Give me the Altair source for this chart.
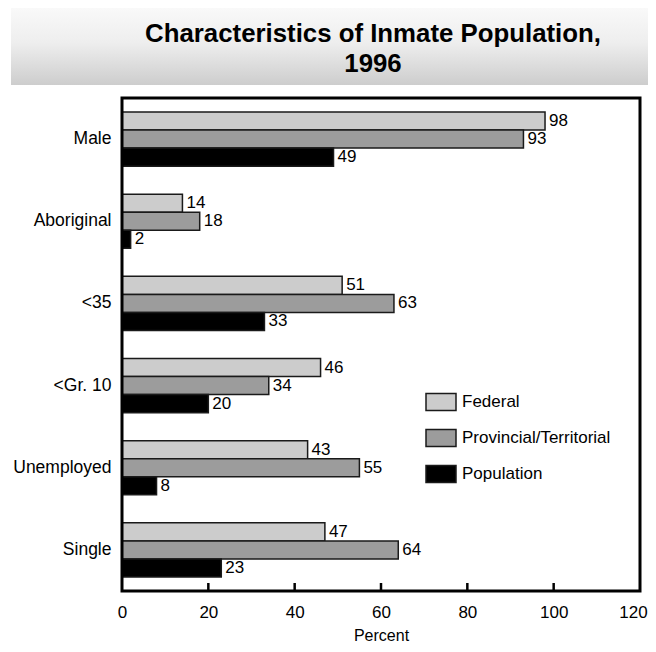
import altair as alt
import pandas as pd

categories = ["Male", "Aboriginal", "<35", "<Gr. 10", "Unemployed", "Single"]
series = ["Federal", "Provincial/Territorial", "Population"]
federal = [98, 14, 51, 46, 43, 47]
provincial = [93, 18, 63, 34, 55, 64]
population = [49, 2, 33, 20, 8, 23]
x_ticks = [20, 40, 60, 80, 100]
x_labels = [0, 20, 40, 60, 80, 100, 120]
title_lines = ["Characteristics of Inmate Population,", "1996"]

rows = []
for s, vals in zip(series, [federal, provincial, population]):
    for c, v in zip(categories, vals):
        rows.append({"category": c, "series": s, "value": v})
df = pd.DataFrame(rows)

FONT = "Liberation Sans"
W, H = 518, 493

x_enc = alt.X(
    "value:Q",
    scale=alt.Scale(domain=[0, 120], nice=False, zero=True),
    axis=alt.Axis(values=x_labels, tickSize=0, domain=False, grid=False,
                  labelFlush=False, labelBound=False,
                  labelOffset={"condition": {"test": "datum.value == 120", "value": -7}, "value": 0},
                  labelFontSize=17, labelFont=FONT, labelColor="black",
                  labelPadding=13, title="Percent", titleFontSize=16,
                  titleFont=FONT, titleFontWeight="normal", titleColor="black",
                  titlePadding=7),
)
y_enc = alt.Y(
    "category:N", sort=categories,
    scale=alt.Scale(paddingInner=0.34, paddingOuter=0.17),
    axis=alt.Axis(title=None, ticks=False, domain=False, labelFontSize=17.5,
                  labelFont=FONT, labelColor="black", labelPadding=11),
)
yoff = alt.YOffset("series:N", sort=series,
                   scale=alt.Scale(paddingInner=0, paddingOuter=0))

base = alt.Chart(df)

bars = base.mark_bar(stroke="#1a1a1a", strokeWidth=1.5).encode(
    x=x_enc, y=y_enc, yOffset=yoff,
    color=alt.Color(
        "series:N",
        scale=alt.Scale(domain=series, range=["#cccccc", "#9c9c9c", "#000000"]),
        legend=alt.Legend(
            title=None, orient="none", legendX=303, legendY=288,
            symbolType="M-1,-0.56H1V0.56H-1Z", symbolSize=900,
            symbolStrokeColor="#1a1a1a", symbolStrokeWidth=1.5,
            symbolOpacity=1, labelFontSize=17, labelFont=FONT,
            labelColor="black", labelOffset=5, rowPadding=8,
        ),
    ),
)

labels = base.mark_text(align="left", baseline="middle", dx=4,
                        fontSize=17, font=FONT, color="black").encode(
    x="value:Q", y=alt.Y("category:N", sort=categories), yOffset=yoff,
    text="value:Q",
)

ticks = alt.Chart(pd.DataFrame({"value": x_ticks})).mark_rule(
    color="black", strokeWidth=2.5).encode(
    x="value:Q", y=alt.value(H - 8), y2=alt.value(H))

frame = alt.Chart(pd.DataFrame({"a": [0]})).mark_rect(
    fill=None, stroke="black", strokeWidth=3).encode(
    x=alt.value(0), x2=alt.value(W), y=alt.value(0), y2=alt.value(H))

header = alt.Chart(pd.DataFrame({"a": [0]})).mark_rect(
    color=alt.Gradient(
        gradient="linear",
        stops=[alt.GradientStop(offset=0, color="#f9f9f9"),
               alt.GradientStop(offset=0.45, color="#eeeeee"),
               alt.GradientStop(offset=1, color="#cdcdcd")],
        x1=0.5, y1=0, x2=0.5, y2=1,
    )
).encode(x=alt.value(-111), x2=alt.value(529), y=alt.value(-90), y2=alt.value(-13))

t1 = alt.Chart(pd.DataFrame({"t": [title_lines[0]]})).mark_text(
    font=FONT, fontSize=25.8, fontWeight="bold", align="center",
    baseline="alphabetic", color="black").encode(
    text="t:N", x=alt.value(251), y=alt.value(-56))
t2 = alt.Chart(pd.DataFrame({"t": [title_lines[1]]})).mark_text(
    font=FONT, fontSize=25.8, fontWeight="bold", align="center",
    baseline="alphabetic", color="black").encode(
    text="t:N", x=alt.value(251), y=alt.value(-26))

chart = alt.layer(header, t1, t2, bars, labels, ticks, frame).properties(
    width=W, height=H,
    autosize=alt.AutoSizeParams(type="none"),
    padding={"left": 114, "top": 90, "right": 8, "bottom": 53},
).configure_view(stroke=None).configure(background="white")

chart.save("out.html", embed_options={"renderer": "svg", "actions": False})
